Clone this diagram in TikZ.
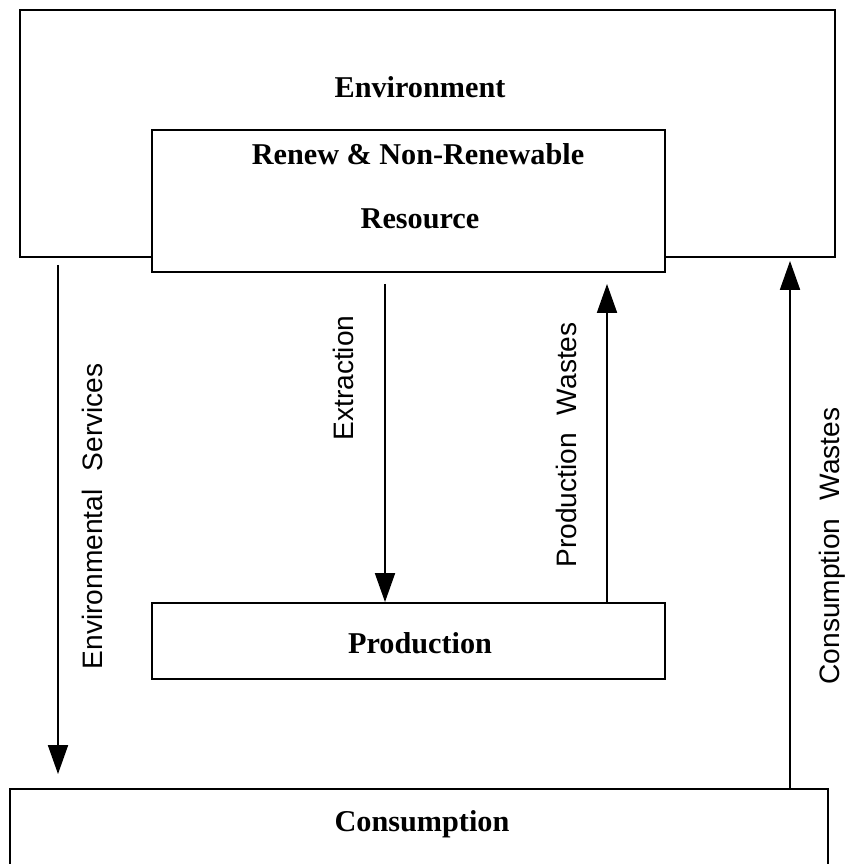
\documentclass[tikz,border=0pt]{standalone}
\usepackage{fontspec}
\setmainfont{Liberation Serif}
\setsansfont{Liberation Sans}
\usetikzlibrary{arrows.meta}
\tikzset{
  box/.style={draw, line width=1.4pt, fill=white, inner sep=0pt},
  flow/.style={line width=1.1pt, -{Triangle[length=0.72cm,width=0.5cm]}},
  title/.style={font=\fontsize{21.5}{26}\selectfont\bfseries},
  flowlabel/.style={font=\fontsize{20}{24}\selectfont\sffamily, rotate=90}
}
\begin{document}
\begin{tikzpicture}
\clip (0,0) rectangle (21.1,21.6);
\fill[white] (0,0) rectangle (21.1,21.6);
\node[box, minimum width=20.375cm, minimum height=6.175cm] (env) at (10.6875,18.2625) {};
\node[box, minimum width=12.825cm, minimum height=3.55cm] (res) at (10.2125,16.575) {};
\node[box, minimum width=12.825cm, minimum height=1.9cm] (prod) at (10.2125,5.575) {};
\node[box, minimum width=20.45cm, minimum height=2.875cm] (cons) at (10.475,0.4375) {};
\node[title] (envtext) at (10.5,19.425) {Environment};
\node[title] (restext) at (10.45,17.75) {Renew \& Non-Renewable};
\node[title] (restype) at (10.5,16.125) {Resource};
\node[title] (prodtext) at (10.5,5.525) {Production};
\node[title] (constext) at (10.55,1.0) {Consumption};
\coordinate (esx) at (1.45,0);
\coordinate (exx) at (9.625,0);
\coordinate (pwx) at (15.175,0);
\coordinate (cwx) at (19.75,0);
\draw[flow] ([yshift=-0.175cm]env.south -| esx) -- ([yshift=0.35cm]cons.north -| esx);
\draw[flow] ([yshift=-0.275cm]res.south -| exx) -- (prod.north -| exx);
\draw[flow] (prod.north -| pwx) -- ([yshift=-0.275cm]res.south -| pwx);
\draw[flow] (cons.north -| cwx) -- ([yshift=-0.075cm]env.south -| cwx);
\node[flowlabel] (eslabel) at (2.3,8.69) {Environmental\hspace{0.65em}Services};
\node[flowlabel] (exlabel) at (8.575,12.15) {Extraction};
\node[flowlabel] (pwlabel) at (14.15,10.475) {Production\hspace{0.65em}Wastes};
\node[flowlabel] (cwlabel) at (20.8,7.95) {Consumption\hspace{0.65em}Wastes};
\end{tikzpicture}
\end{document}
